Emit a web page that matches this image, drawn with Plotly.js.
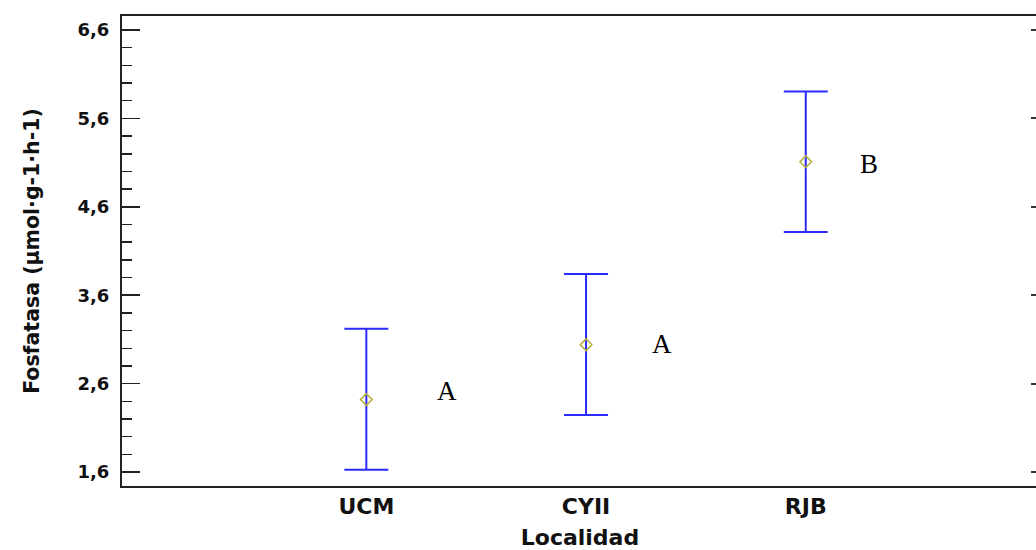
<!DOCTYPE html>
<html>
<head>
<meta charset="utf-8">
<script src="https://cdn.plot.ly/plotly-3.0.1.min.js"></script>
<style>
html, body { margin:0; padding:0; overflow:hidden; background:#fff; }
#chart { width:1040px; height:550px; }
</style>
</head>
<body>
<div id="chart"></div>
<script>
// Data
const categories = ["UCM", "CYII", "RJB"];
const means = [2.42, 3.04, 5.11];
const upper = [3.22, 3.84, 5.905];
const lower = [1.625, 2.245, 4.315];
const groupLetters = ["A", "A", "B"];
const yTickVals = [1.6, 2.6, 3.6, 4.6, 5.6, 6.6];
const yTickText = ["1,6", "2,6", "3,6", "4,6", "5,6", "6,6"];

// placement of the group letters (layout only)
const letterX = [0.368, 1.346, 2.29];
const letterY = [2.497, 3.029, 5.065];

const errPlus = means.map((m, i) => upper[i] - m);
const errMinus = means.map((m, i) => m - lower[i]);

const yRange = [1.442, 6.758];
const xRange = [-1.112, 3.057];

const trace = {
  type: "scatter",
  mode: "markers",
  x: categories,
  y: means,
  marker: { symbol: "diamond-open", size: 9, color: "#b5ad3a", line: { width: 1.5, color: "#b5ad3a" } },
  error_y: {
    type: "data", symmetric: false,
    array: errPlus, arrayminus: errMinus,
    color: "#2a2aff", thickness: 2, width: 22
  },
  showlegend: false,
  hoverinfo: "skip"
};

// invisible trace on right axis to hold the mirrored ticks
const traceRight = {
  type: "scatter", mode: "markers",
  x: categories, y: means, yaxis: "y2",
  marker: { opacity: 0 }, showlegend: false, hoverinfo: "skip"
};

const annotations = groupLetters.map((t, i) => ({
  x: letterX[i], y: letterY[i], xref: "x", yref: "y",
  text: t, showarrow: false,
  font: { family: "Liberation Serif, Times New Roman, serif", size: 27, color: "#000" },
  yshift: 1.5
}));

const layout = {
  width: 1040, height: 550,
  margin: { l: 122, r: 2, t: 16, b: 64 },
  paper_bgcolor: "#fff", plot_bgcolor: "#fff",
  showlegend: false,
  xaxis: {
    type: "category",
    range: xRange,
    showgrid: false, zeroline: false,
    showline: true, linecolor: "#222", linewidth: 2, mirror: true,
    ticks: "",
    tickfont: { family: "DejaVu Sans", size: 22, color: "#111", weight: "bold" },
    title: { text: "<b>Localidad</b>", font: { family: "DejaVu Sans", size: 22, color: "#111" }, standoff: 13 }
  },
  yaxis: {
    range: yRange,
    showgrid: false, zeroline: false,
    showline: true, linecolor: "#222", linewidth: 2,
    tickmode: "array", tickvals: yTickVals, ticktext: yTickText,
    ticks: "inside", ticklen: 18, tickwidth: 1.5, tickcolor: "#222",
    ticklabelstandoff: 7,
    tickfont: { family: "DejaVu Sans", size: 18, color: "#111", weight: "bold" },
    minor: { dtick: 0.2, tick0: 1.6, ticks: "inside", ticklen: 10, tickwidth: 1.5, tickcolor: "#222", showgrid: false },
    title: { text: "<b>Fosfatasa (µmol·g-1·h-1)</b>", font: { family: "DejaVu Sans", size: 20.5, color: "#111" }, standoff: 32 }
  },
  yaxis2: {
    overlaying: "y", side: "right", range: yRange,
    showgrid: false, zeroline: false,
    showline: true, linecolor: "#222", linewidth: 2,
    tickmode: "array", tickvals: yTickVals, showticklabels: false,
    ticks: "inside", ticklen: 7, tickwidth: 2, tickcolor: "#333"
  },
  annotations: annotations
};

Plotly.newPlot("chart", [trace, traceRight], layout, { staticPlot: true, displayModeBar: false });
</script>
</body>
</html>
